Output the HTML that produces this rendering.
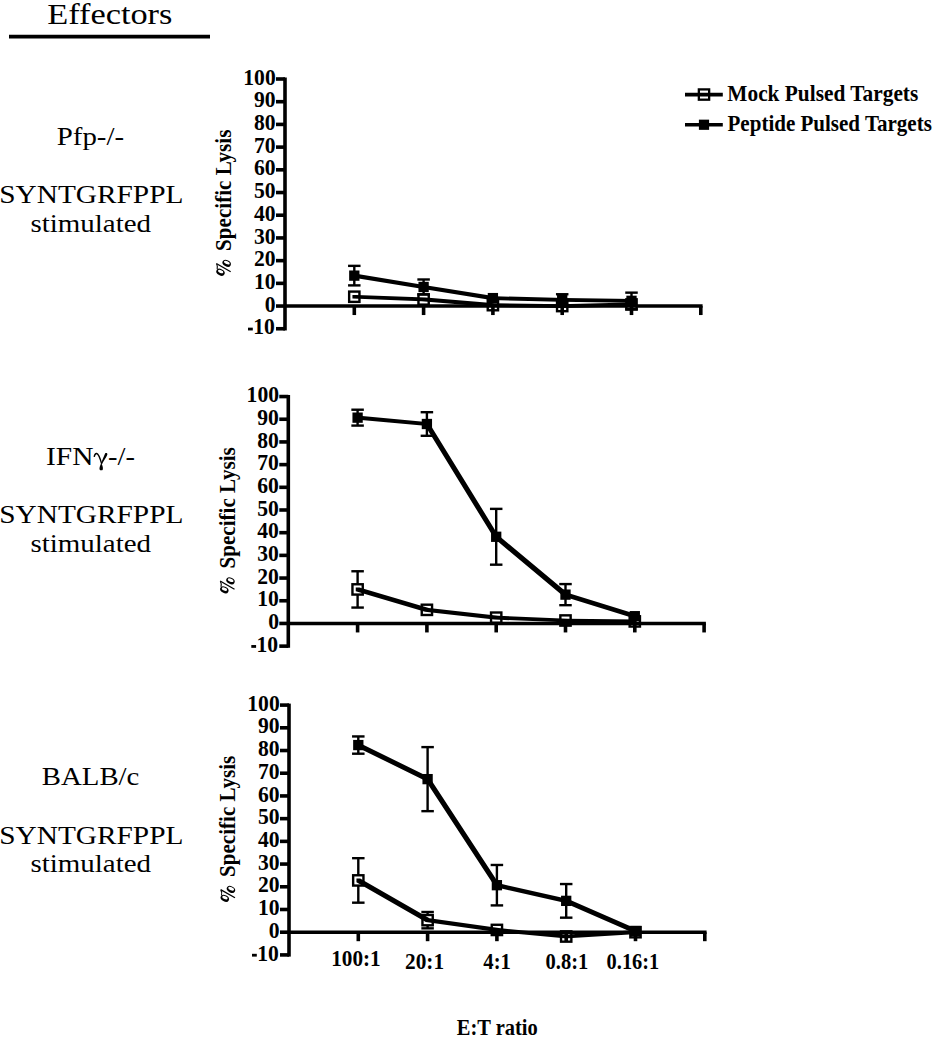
<!DOCTYPE html>
<html><head><meta charset="utf-8"><style>
html,body{margin:0;padding:0;background:#fff;width:945px;height:1050px;overflow:hidden}
svg{display:block}
text{font-family:"Liberation Serif",serif;fill:#000}
.b{font-weight:bold}
</style></head><body>
<svg width="945" height="1050" viewBox="0 0 945 1050">
<rect width="945" height="1050" fill="#fff"/>
<text class="r" style="font-size:29.8px" transform="translate(47.14,24.1) scale(1.1532,1)">Effectors</text>
<line x1="9" y1="36.6" x2="210" y2="36.6" stroke="#000" stroke-width="3.6"/>

<rect x="698.85" y="89.4" width="10.3" height="10.3" fill="#fff" stroke="#000" stroke-width="2.3"/>
<line x1="685" y1="94.7" x2="722.8" y2="94.7" stroke="#000" stroke-width="3.8"/>
<text class="b" style="font-size:22.3px" transform="translate(727.32,101) scale(0.9574,1)">Mock Pulsed Targets</text>
<line x1="685" y1="124.7" x2="722.8" y2="124.7" stroke="#000" stroke-width="3.6"/>
<rect x="698.9" y="119.65" width="10.2" height="10.2" fill="#000"/>
<text class="b" style="font-size:22.3px" transform="translate(727.53,131) scale(0.9432,1)">Peptide Pulsed Targets</text>

<rect x="349.15" y="291.59" width="10.3" height="10.3" fill="#fff" stroke="#000" stroke-width="2.4"/>
<rect x="418.45" y="294.32" width="10.3" height="10.3" fill="#fff" stroke="#000" stroke-width="2.4"/>
<rect x="487.75" y="299.99" width="10.3" height="10.3" fill="#fff" stroke="#000" stroke-width="2.4"/>
<rect x="557.05" y="300.9" width="10.3" height="10.3" fill="#fff" stroke="#000" stroke-width="2.4"/>
<rect x="626.35" y="299.31" width="10.3" height="10.3" fill="#fff" stroke="#000" stroke-width="2.4"/>
<line x1="354.3" y1="265.86" x2="354.3" y2="285.39" stroke="#000" stroke-width="2.4"/>
<line x1="348.05" y1="265.86" x2="360.55" y2="265.86" stroke="#000" stroke-width="2.4"/>
<line x1="348.05" y1="285.39" x2="360.55" y2="285.39" stroke="#000" stroke-width="2.4"/>
<line x1="423.6" y1="279.49" x2="423.6" y2="294.47" stroke="#000" stroke-width="2.4"/>
<line x1="417.35" y1="279.49" x2="429.85" y2="279.49" stroke="#000" stroke-width="2.4"/>
<line x1="417.35" y1="294.47" x2="429.85" y2="294.47" stroke="#000" stroke-width="2.4"/>
<line x1="562.2" y1="294.24" x2="562.2" y2="305.6" stroke="#000" stroke-width="2.4"/>
<line x1="555.95" y1="294.24" x2="568.45" y2="294.24" stroke="#000" stroke-width="2.4"/>
<line x1="555.95" y1="305.6" x2="568.45" y2="305.6" stroke="#000" stroke-width="2.4"/>
<line x1="631.5" y1="292.65" x2="631.5" y2="309" stroke="#000" stroke-width="2.4"/>
<line x1="625.25" y1="292.65" x2="637.75" y2="292.65" stroke="#000" stroke-width="2.4"/>
<line x1="625.25" y1="309" x2="637.75" y2="309" stroke="#000" stroke-width="2.4"/>
<rect x="349.15" y="270.48" width="10.3" height="10.3" fill="#000"/>
<rect x="418.45" y="281.83" width="10.3" height="10.3" fill="#000"/>
<rect x="487.75" y="292.95" width="10.3" height="10.3" fill="#000"/>
<rect x="557.05" y="294.77" width="10.3" height="10.3" fill="#000"/>
<rect x="626.35" y="295.68" width="10.3" height="10.3" fill="#000"/>
<path d="M352.45,294.89 L356.15,294.89 L425.45,297.62 L425.45,301.32 L421.75,301.32 L352.45,298.59 Z M421.75,297.62 L425.45,297.62 L494.75,303.29 L494.75,306.99 L491.05,306.99 L421.75,301.32 Z M491.05,303.29 L494.75,303.29 L564.05,304.2 L564.05,307.9 L560.35,307.9 L491.05,306.99 Z M560.35,304.2 L629.65,302.61 L633.35,302.61 L633.35,306.31 L564.05,307.9 L560.35,307.9 Z " fill="#000"/>
<path d="M352.45,273.78 L356.15,273.78 L425.45,285.13 L425.45,288.83 L421.75,288.83 L352.45,277.48 Z M421.75,285.13 L425.45,285.13 L494.75,296.25 L494.75,299.95 L491.05,299.95 L421.75,288.83 Z M491.05,296.25 L494.75,296.25 L564.05,298.07 L564.05,301.77 L560.35,301.77 L491.05,299.95 Z M560.35,298.07 L564.05,298.07 L633.35,298.98 L633.35,302.68 L629.65,302.68 L560.35,301.77 Z " fill="#000"/>
<line x1="285" y1="77.5" x2="285" y2="330.45" stroke="#000" stroke-width="3.6"/>
<line x1="276" y1="328.75" x2="285" y2="328.75" stroke="#000" stroke-width="3.6"/>
<text class="b" style="font-size:22.3px" transform="translate(253.15,334.36) scale(0.9700,1)">10</text>
<rect x="248" y="327.66" width="4.8" height="2.8" fill="#000"/>
<line x1="276" y1="306.05" x2="285" y2="306.05" stroke="#000" stroke-width="3.6"/>
<text class="b" style="font-size:22.3px" transform="translate(264.86,311.65) scale(0.9700,1)">0</text>
<line x1="276" y1="283.35" x2="285" y2="283.35" stroke="#000" stroke-width="3.6"/>
<text class="b" style="font-size:22.3px" transform="translate(253.95,288.95) scale(0.9700,1)">10</text>
<line x1="276" y1="260.64" x2="285" y2="260.64" stroke="#000" stroke-width="3.6"/>
<text class="b" style="font-size:22.3px" transform="translate(253.95,266.24) scale(0.9700,1)">20</text>
<line x1="276" y1="237.94" x2="285" y2="237.94" stroke="#000" stroke-width="3.6"/>
<text class="b" style="font-size:22.3px" transform="translate(253.95,243.53) scale(0.9700,1)">30</text>
<line x1="276" y1="215.23" x2="285" y2="215.23" stroke="#000" stroke-width="3.6"/>
<text class="b" style="font-size:22.3px" transform="translate(253.95,220.83) scale(0.9700,1)">40</text>
<line x1="276" y1="192.53" x2="285" y2="192.53" stroke="#000" stroke-width="3.6"/>
<text class="b" style="font-size:22.3px" transform="translate(253.95,198.12) scale(0.9700,1)">50</text>
<line x1="276" y1="169.82" x2="285" y2="169.82" stroke="#000" stroke-width="3.6"/>
<text class="b" style="font-size:22.3px" transform="translate(253.95,175.42) scale(0.9700,1)">60</text>
<line x1="276" y1="147.12" x2="285" y2="147.12" stroke="#000" stroke-width="3.6"/>
<text class="b" style="font-size:22.3px" transform="translate(253.95,152.72) scale(0.9700,1)">70</text>
<line x1="276" y1="124.41" x2="285" y2="124.41" stroke="#000" stroke-width="3.6"/>
<text class="b" style="font-size:22.3px" transform="translate(253.95,130.01) scale(0.9700,1)">80</text>
<line x1="276" y1="101.7" x2="285" y2="101.7" stroke="#000" stroke-width="3.6"/>
<text class="b" style="font-size:22.3px" transform="translate(253.95,107.3) scale(0.9700,1)">90</text>
<line x1="276" y1="79" x2="285" y2="79" stroke="#000" stroke-width="3.6"/>
<text class="b" style="font-size:22.3px" transform="translate(243.28,84.6) scale(0.9700,1)">100</text>
<line x1="285" y1="306.05" x2="702.6" y2="306.05" stroke="#000" stroke-width="3.6"/>
<line x1="354.3" y1="306.05" x2="354.3" y2="315.05" stroke="#000" stroke-width="3.6"/>
<line x1="423.6" y1="306.05" x2="423.6" y2="315.05" stroke="#000" stroke-width="3.6"/>
<line x1="492.9" y1="306.05" x2="492.9" y2="315.05" stroke="#000" stroke-width="3.6"/>
<line x1="562.2" y1="306.05" x2="562.2" y2="315.05" stroke="#000" stroke-width="3.6"/>
<line x1="631.5" y1="306.05" x2="631.5" y2="315.05" stroke="#000" stroke-width="3.6"/>
<line x1="700.8" y1="306.05" x2="700.8" y2="315.05" stroke="#000" stroke-width="3.6"/>
<text class="b" style="font-size:22.3px" transform="translate(231.1,250.88) rotate(-90) scale(0.9462,1)">Specific Lysis</text>
<g transform="translate(0,0)"><g fill="#000"><ellipse cx="226.65" cy="263.3" rx="4.45" ry="3.1" transform="rotate(28 226.65 263.3)"/><ellipse cx="226.85" cy="262.65" rx="3.05" ry="1.55" fill="#fff" transform="rotate(20 226.85 262.65)"/><ellipse cx="220.5" cy="272.25" rx="4.45" ry="3.1" transform="rotate(28 220.5 272.25)"/><ellipse cx="220.65" cy="271.55" rx="2.8" ry="1.5" fill="#fff" transform="rotate(20 220.65 271.55)"/><line x1="216.3" y1="263.5" x2="230.7" y2="271.7" stroke="#000" stroke-width="1.3"/><path d="M216.6,264 C217.6,265.5 217.6,267.5 217.2,269.4" fill="none" stroke="#000" stroke-width="1.1"/></g></g>
<text class="r" style="font-size:25.3px" transform="translate(56.74,144.6) scale(1.1409,1)">Pfp-/-</text>
<text class="r" style="font-size:25.3px" transform="translate(-0.73,202.8) scale(1.1595,1)">SYNTGRFPPL</text>
<text class="r" style="font-size:25.3px" transform="translate(30.45,231.7) scale(1.1452,1)">stimulated</text>
<line x1="357.6" y1="571.26" x2="357.6" y2="607.57" stroke="#000" stroke-width="2.4"/>
<line x1="351.35" y1="571.26" x2="363.85" y2="571.26" stroke="#000" stroke-width="2.4"/>
<line x1="351.35" y1="607.57" x2="363.85" y2="607.57" stroke="#000" stroke-width="2.4"/>
<rect x="352.45" y="584.27" width="10.3" height="10.3" fill="#fff" stroke="#000" stroke-width="2.4"/>
<rect x="421.75" y="604.69" width="10.3" height="10.3" fill="#fff" stroke="#000" stroke-width="2.4"/>
<rect x="491.05" y="612.51" width="10.3" height="10.3" fill="#fff" stroke="#000" stroke-width="2.4"/>
<rect x="560.35" y="615.35" width="10.3" height="10.3" fill="#fff" stroke="#000" stroke-width="2.4"/>
<rect x="629.65" y="616.26" width="10.3" height="10.3" fill="#fff" stroke="#000" stroke-width="2.4"/>
<line x1="357.6" y1="409.71" x2="357.6" y2="425.59" stroke="#000" stroke-width="2.4"/>
<line x1="351.35" y1="409.71" x2="363.85" y2="409.71" stroke="#000" stroke-width="2.4"/>
<line x1="351.35" y1="425.59" x2="363.85" y2="425.59" stroke="#000" stroke-width="2.4"/>
<line x1="426.9" y1="412.21" x2="426.9" y2="435.8" stroke="#000" stroke-width="2.4"/>
<line x1="420.65" y1="412.21" x2="433.15" y2="412.21" stroke="#000" stroke-width="2.4"/>
<line x1="420.65" y1="435.8" x2="433.15" y2="435.8" stroke="#000" stroke-width="2.4"/>
<line x1="496.2" y1="508.87" x2="496.2" y2="564.68" stroke="#000" stroke-width="2.4"/>
<line x1="489.95" y1="508.87" x2="502.45" y2="508.87" stroke="#000" stroke-width="2.4"/>
<line x1="489.95" y1="564.68" x2="502.45" y2="564.68" stroke="#000" stroke-width="2.4"/>
<line x1="565.5" y1="584.08" x2="565.5" y2="605.18" stroke="#000" stroke-width="2.4"/>
<line x1="559.25" y1="584.08" x2="571.75" y2="584.08" stroke="#000" stroke-width="2.4"/>
<line x1="559.25" y1="605.18" x2="571.75" y2="605.18" stroke="#000" stroke-width="2.4"/>
<rect x="352.45" y="412.5" width="10.3" height="10.3" fill="#000"/>
<rect x="421.75" y="418.85" width="10.3" height="10.3" fill="#000"/>
<rect x="491.05" y="531.62" width="10.3" height="10.3" fill="#000"/>
<rect x="560.35" y="589.48" width="10.3" height="10.3" fill="#000"/>
<rect x="629.65" y="611.04" width="10.3" height="10.3" fill="#000"/>
<path d="M355.75,587.57 L359.45,587.57 L428.75,607.99 L428.75,611.69 L425.05,611.69 L355.75,591.27 Z M425.05,607.99 L428.75,607.99 L498.05,615.81 L498.05,619.51 L494.35,619.51 L425.05,611.69 Z M494.35,615.81 L498.05,615.81 L567.35,618.65 L567.35,622.35 L563.65,622.35 L494.35,619.51 Z M563.65,618.65 L567.35,618.65 L636.65,619.56 L636.65,623.26 L632.95,623.26 L563.65,622.35 Z " fill="#000"/>
<path d="M355.75,415.8 L359.45,415.8 L428.75,422.15 L428.75,425.85 L425.05,425.85 L355.75,419.5 Z M425.05,422.15 L428.75,422.15 L498.05,534.92 L498.05,538.62 L494.35,538.62 L425.05,425.85 Z M494.35,534.92 L498.05,534.92 L567.35,592.78 L567.35,596.48 L563.65,596.48 L494.35,538.62 Z M563.65,592.78 L567.35,592.78 L636.65,614.34 L636.65,618.04 L632.95,618.04 L563.65,596.48 Z " fill="#000"/>
<line x1="288.3" y1="395.05" x2="288.3" y2="647.84" stroke="#000" stroke-width="3.6"/>
<line x1="279.3" y1="646.14" x2="288.3" y2="646.14" stroke="#000" stroke-width="3.6"/>
<text class="b" style="font-size:22.3px" transform="translate(256.44,651.74) scale(0.9700,1)">10</text>
<rect x="251.3" y="645.04" width="4.8" height="2.8" fill="#000"/>
<line x1="279.3" y1="623.45" x2="288.3" y2="623.45" stroke="#000" stroke-width="3.6"/>
<text class="b" style="font-size:22.3px" transform="translate(268.16,629.05) scale(0.9700,1)">0</text>
<line x1="279.3" y1="600.76" x2="288.3" y2="600.76" stroke="#000" stroke-width="3.6"/>
<text class="b" style="font-size:22.3px" transform="translate(257.25,606.36) scale(0.9700,1)">10</text>
<line x1="279.3" y1="578.07" x2="288.3" y2="578.07" stroke="#000" stroke-width="3.6"/>
<text class="b" style="font-size:22.3px" transform="translate(257.25,583.67) scale(0.9700,1)">20</text>
<line x1="279.3" y1="555.38" x2="288.3" y2="555.38" stroke="#000" stroke-width="3.6"/>
<text class="b" style="font-size:22.3px" transform="translate(257.25,560.98) scale(0.9700,1)">30</text>
<line x1="279.3" y1="532.69" x2="288.3" y2="532.69" stroke="#000" stroke-width="3.6"/>
<text class="b" style="font-size:22.3px" transform="translate(257.25,538.29) scale(0.9700,1)">40</text>
<line x1="279.3" y1="510" x2="288.3" y2="510" stroke="#000" stroke-width="3.6"/>
<text class="b" style="font-size:22.3px" transform="translate(257.25,515.6) scale(0.9700,1)">50</text>
<line x1="279.3" y1="487.31" x2="288.3" y2="487.31" stroke="#000" stroke-width="3.6"/>
<text class="b" style="font-size:22.3px" transform="translate(257.25,492.91) scale(0.9700,1)">60</text>
<line x1="279.3" y1="464.62" x2="288.3" y2="464.62" stroke="#000" stroke-width="3.6"/>
<text class="b" style="font-size:22.3px" transform="translate(257.25,470.22) scale(0.9700,1)">70</text>
<line x1="279.3" y1="441.93" x2="288.3" y2="441.93" stroke="#000" stroke-width="3.6"/>
<text class="b" style="font-size:22.3px" transform="translate(257.25,447.53) scale(0.9700,1)">80</text>
<line x1="279.3" y1="419.24" x2="288.3" y2="419.24" stroke="#000" stroke-width="3.6"/>
<text class="b" style="font-size:22.3px" transform="translate(257.25,424.84) scale(0.9700,1)">90</text>
<line x1="279.3" y1="396.55" x2="288.3" y2="396.55" stroke="#000" stroke-width="3.6"/>
<text class="b" style="font-size:22.3px" transform="translate(246.58,402.15) scale(0.9700,1)">100</text>
<line x1="288.3" y1="623.45" x2="705.9" y2="623.45" stroke="#000" stroke-width="3.6"/>
<line x1="357.6" y1="623.45" x2="357.6" y2="632.45" stroke="#000" stroke-width="3.6"/>
<line x1="426.9" y1="623.45" x2="426.9" y2="632.45" stroke="#000" stroke-width="3.6"/>
<line x1="496.2" y1="623.45" x2="496.2" y2="632.45" stroke="#000" stroke-width="3.6"/>
<line x1="565.5" y1="623.45" x2="565.5" y2="632.45" stroke="#000" stroke-width="3.6"/>
<line x1="634.8" y1="623.45" x2="634.8" y2="632.45" stroke="#000" stroke-width="3.6"/>
<line x1="704.1" y1="623.45" x2="704.1" y2="632.45" stroke="#000" stroke-width="3.6"/>
<text class="b" style="font-size:22.3px" transform="translate(234.9,568.43) rotate(-90) scale(0.9462,1)">Specific Lysis</text>
<g transform="translate(3.8,317.55)"><g fill="#000"><ellipse cx="226.65" cy="263.3" rx="4.45" ry="3.1" transform="rotate(28 226.65 263.3)"/><ellipse cx="226.85" cy="262.65" rx="3.05" ry="1.55" fill="#fff" transform="rotate(20 226.85 262.65)"/><ellipse cx="220.5" cy="272.25" rx="4.45" ry="3.1" transform="rotate(28 220.5 272.25)"/><ellipse cx="220.65" cy="271.55" rx="2.8" ry="1.5" fill="#fff" transform="rotate(20 220.65 271.55)"/><line x1="216.3" y1="263.5" x2="230.7" y2="271.7" stroke="#000" stroke-width="1.3"/><path d="M216.6,264 C217.6,265.5 217.6,267.5 217.2,269.4" fill="none" stroke="#000" stroke-width="1.1"/></g></g>
<text class="r" style="font-size:25.3px" transform="translate(46.04,464.7) scale(1.1618,1)">IFN</text>
<text class="r" style="font-size:25.3px" transform="translate(107.97,464.7) scale(1.1273,1)">-/-</text>
<text class="r" style="font-size:25.3px" transform="translate(-0.73,523) scale(1.1595,1)">SYNTGRFPPL</text>
<text class="r" style="font-size:25.3px" transform="translate(30.45,551.9) scale(1.1452,1)">stimulated</text>
<g fill="#000"><path d="M94.2,456.9 C94.6,454.6 95.6,453.4 96.7,453.5 C98.4,453.7 99.8,457.3 101.6,463.6" fill="none" stroke="#000" stroke-width="1.4"/>
<path d="M105.2,453.3 C106.3,452.6 107.8,453.1 107.3,454.8 C106.2,457.5 103.6,461 101.9,464.2 L100.9,463.6 C102.3,460.3 103.6,456.6 105.2,453.3 Z"/>
<path d="M101.3,462.8 C102.4,465.5 103.3,468 102.8,469.4 C102.3,470.6 100.1,470.7 99.6,469.5 C99.1,468 100.2,465.6 101.3,462.8 Z"/></g>
<line x1="358.3" y1="858.17" x2="358.3" y2="902.68" stroke="#000" stroke-width="2.4"/>
<line x1="352.05" y1="858.17" x2="364.55" y2="858.17" stroke="#000" stroke-width="2.4"/>
<line x1="352.05" y1="902.68" x2="364.55" y2="902.68" stroke="#000" stroke-width="2.4"/>
<line x1="427.6" y1="911.99" x2="427.6" y2="928.34" stroke="#000" stroke-width="2.4"/>
<line x1="421.35" y1="911.99" x2="433.85" y2="911.99" stroke="#000" stroke-width="2.4"/>
<line x1="421.35" y1="928.34" x2="433.85" y2="928.34" stroke="#000" stroke-width="2.4"/>
<rect x="353.15" y="875.27" width="10.3" height="10.3" fill="#fff" stroke="#000" stroke-width="2.4"/>
<rect x="422.45" y="915.01" width="10.3" height="10.3" fill="#fff" stroke="#000" stroke-width="2.4"/>
<rect x="491.75" y="924.78" width="10.3" height="10.3" fill="#fff" stroke="#000" stroke-width="2.4"/>
<rect x="561.05" y="931.36" width="10.3" height="10.3" fill="#fff" stroke="#000" stroke-width="2.4"/>
<rect x="630.35" y="927.05" width="10.3" height="10.3" fill="#fff" stroke="#000" stroke-width="2.4"/>
<line x1="358.3" y1="736.44" x2="358.3" y2="753.7" stroke="#000" stroke-width="2.4"/>
<line x1="352.05" y1="736.44" x2="364.55" y2="736.44" stroke="#000" stroke-width="2.4"/>
<line x1="352.05" y1="753.7" x2="364.55" y2="753.7" stroke="#000" stroke-width="2.4"/>
<line x1="427.6" y1="747.11" x2="427.6" y2="811.16" stroke="#000" stroke-width="2.4"/>
<line x1="421.35" y1="747.11" x2="433.85" y2="747.11" stroke="#000" stroke-width="2.4"/>
<line x1="421.35" y1="811.16" x2="433.85" y2="811.16" stroke="#000" stroke-width="2.4"/>
<line x1="496.9" y1="864.98" x2="496.9" y2="905.4" stroke="#000" stroke-width="2.4"/>
<line x1="490.65" y1="864.98" x2="503.15" y2="864.98" stroke="#000" stroke-width="2.4"/>
<line x1="490.65" y1="905.4" x2="503.15" y2="905.4" stroke="#000" stroke-width="2.4"/>
<line x1="566.2" y1="884.05" x2="566.2" y2="917.67" stroke="#000" stroke-width="2.4"/>
<line x1="559.95" y1="884.05" x2="572.45" y2="884.05" stroke="#000" stroke-width="2.4"/>
<line x1="559.95" y1="917.67" x2="572.45" y2="917.67" stroke="#000" stroke-width="2.4"/>
<rect x="353.15" y="739.92" width="10.3" height="10.3" fill="#000"/>
<rect x="422.45" y="773.98" width="10.3" height="10.3" fill="#000"/>
<rect x="491.75" y="880.04" width="10.3" height="10.3" fill="#000"/>
<rect x="561.05" y="895.71" width="10.3" height="10.3" fill="#000"/>
<rect x="630.35" y="925.91" width="10.3" height="10.3" fill="#000"/>
<path d="M356.45,878.57 L360.15,878.57 L429.45,918.31 L429.45,922.01 L425.75,922.01 L356.45,882.27 Z M425.75,918.31 L429.45,918.31 L498.75,928.08 L498.75,931.78 L495.05,931.78 L425.75,922.01 Z M495.05,928.08 L498.75,928.08 L568.05,934.66 L568.05,938.36 L564.35,938.36 L495.05,931.78 Z M564.35,934.66 L633.65,930.35 L637.35,930.35 L637.35,934.05 L568.05,938.36 L564.35,938.36 Z " fill="#000"/>
<path d="M356.45,743.22 L360.15,743.22 L429.45,777.28 L429.45,780.98 L425.75,780.98 L356.45,746.92 Z M425.75,777.28 L429.45,777.28 L498.75,883.34 L498.75,887.04 L495.05,887.04 L425.75,780.98 Z M495.05,883.34 L498.75,883.34 L568.05,899.01 L568.05,902.71 L564.35,902.71 L495.05,887.04 Z M564.35,899.01 L568.05,899.01 L637.35,929.21 L637.35,932.91 L633.65,932.91 L564.35,902.71 Z " fill="#000"/>
<line x1="289" y1="703.6" x2="289" y2="956.61" stroke="#000" stroke-width="3.6"/>
<line x1="280" y1="954.91" x2="289" y2="954.91" stroke="#000" stroke-width="3.6"/>
<text class="b" style="font-size:22.3px" transform="translate(257.14,960.51) scale(0.9700,1)">10</text>
<rect x="252" y="953.81" width="4.8" height="2.8" fill="#000"/>
<line x1="280" y1="932.2" x2="289" y2="932.2" stroke="#000" stroke-width="3.6"/>
<text class="b" style="font-size:22.3px" transform="translate(268.86,937.8) scale(0.9700,1)">0</text>
<line x1="280" y1="909.49" x2="289" y2="909.49" stroke="#000" stroke-width="3.6"/>
<text class="b" style="font-size:22.3px" transform="translate(257.94,915.09) scale(0.9700,1)">10</text>
<line x1="280" y1="886.78" x2="289" y2="886.78" stroke="#000" stroke-width="3.6"/>
<text class="b" style="font-size:22.3px" transform="translate(257.94,892.38) scale(0.9700,1)">20</text>
<line x1="280" y1="864.07" x2="289" y2="864.07" stroke="#000" stroke-width="3.6"/>
<text class="b" style="font-size:22.3px" transform="translate(257.94,869.67) scale(0.9700,1)">30</text>
<line x1="280" y1="841.36" x2="289" y2="841.36" stroke="#000" stroke-width="3.6"/>
<text class="b" style="font-size:22.3px" transform="translate(257.94,846.96) scale(0.9700,1)">40</text>
<line x1="280" y1="818.65" x2="289" y2="818.65" stroke="#000" stroke-width="3.6"/>
<text class="b" style="font-size:22.3px" transform="translate(257.94,824.25) scale(0.9700,1)">50</text>
<line x1="280" y1="795.94" x2="289" y2="795.94" stroke="#000" stroke-width="3.6"/>
<text class="b" style="font-size:22.3px" transform="translate(257.94,801.54) scale(0.9700,1)">60</text>
<line x1="280" y1="773.23" x2="289" y2="773.23" stroke="#000" stroke-width="3.6"/>
<text class="b" style="font-size:22.3px" transform="translate(257.94,778.83) scale(0.9700,1)">70</text>
<line x1="280" y1="750.52" x2="289" y2="750.52" stroke="#000" stroke-width="3.6"/>
<text class="b" style="font-size:22.3px" transform="translate(257.94,756.12) scale(0.9700,1)">80</text>
<line x1="280" y1="727.81" x2="289" y2="727.81" stroke="#000" stroke-width="3.6"/>
<text class="b" style="font-size:22.3px" transform="translate(257.94,733.41) scale(0.9700,1)">90</text>
<line x1="280" y1="705.1" x2="289" y2="705.1" stroke="#000" stroke-width="3.6"/>
<text class="b" style="font-size:22.3px" transform="translate(247.28,710.7) scale(0.9700,1)">100</text>
<line x1="289" y1="932.2" x2="706.6" y2="932.2" stroke="#000" stroke-width="3.6"/>
<line x1="358.3" y1="932.2" x2="358.3" y2="941.2" stroke="#000" stroke-width="3.6"/>
<line x1="427.6" y1="932.2" x2="427.6" y2="941.2" stroke="#000" stroke-width="3.6"/>
<line x1="496.9" y1="932.2" x2="496.9" y2="941.2" stroke="#000" stroke-width="3.6"/>
<line x1="566.2" y1="932.2" x2="566.2" y2="941.2" stroke="#000" stroke-width="3.6"/>
<line x1="635.5" y1="932.2" x2="635.5" y2="941.2" stroke="#000" stroke-width="3.6"/>
<line x1="704.8" y1="932.2" x2="704.8" y2="941.2" stroke="#000" stroke-width="3.6"/>
<text class="b" style="font-size:22.3px" transform="translate(235.4,876.98) rotate(-90) scale(0.9462,1)">Specific Lysis</text>
<g transform="translate(4.3,626.1)"><g fill="#000"><ellipse cx="226.65" cy="263.3" rx="4.45" ry="3.1" transform="rotate(28 226.65 263.3)"/><ellipse cx="226.85" cy="262.65" rx="3.05" ry="1.55" fill="#fff" transform="rotate(20 226.85 262.65)"/><ellipse cx="220.5" cy="272.25" rx="4.45" ry="3.1" transform="rotate(28 220.5 272.25)"/><ellipse cx="220.65" cy="271.55" rx="2.8" ry="1.5" fill="#fff" transform="rotate(20 220.65 271.55)"/><line x1="216.3" y1="263.5" x2="230.7" y2="271.7" stroke="#000" stroke-width="1.3"/><path d="M216.6,264 C217.6,265.5 217.6,267.5 217.2,269.4" fill="none" stroke="#000" stroke-width="1.1"/></g></g>
<text class="r" style="font-size:25.3px" transform="translate(41.75,785.2) scale(1.1395,1)">BALB/c</text>
<text class="r" style="font-size:25.3px" transform="translate(-0.73,843.6) scale(1.1595,1)">SYNTGRFPPL</text>
<text class="r" style="font-size:25.3px" transform="translate(30.45,872.1) scale(1.1452,1)">stimulated</text>
<text class="b" style="font-size:22.3px" transform="translate(331.24,965.85) scale(0.9510,1)">100:1</text>
<text class="b" style="font-size:22.3px" transform="translate(405.05,969.05) scale(0.9548,1)">20:1</text>
<text class="b" style="font-size:22.3px" transform="translate(483.37,968.65) scale(0.9239,1)">4:1</text>
<text class="b" style="font-size:22.3px" transform="translate(545.51,968.75) scale(0.9213,1)">0.8:1</text>
<text class="b" style="font-size:22.3px" transform="translate(606.62,968.75) scale(0.9130,1)">0.16:1</text>
<text class="b" style="font-size:22.3px" transform="translate(456.74,1034.6) scale(0.9199,1)">E:T ratio</text>
</svg>
</body></html>
